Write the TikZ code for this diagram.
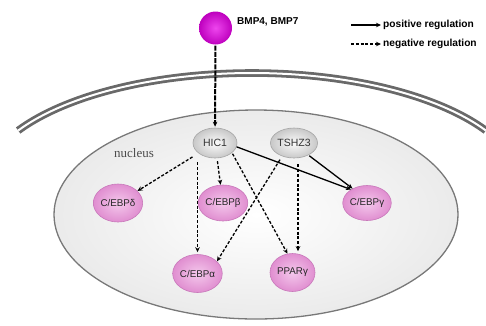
\documentclass[tikz,border=0pt]{standalone}
\usepackage{fontspec}
\setmainfont{Liberation Sans}
\newfontfamily\nucfont{Liberation Serif}
\usetikzlibrary{arrows.meta,shapes.geometric,calc}
\definecolor{pinkin}{RGB}{244,200,236}
\definecolor{pinkout}{RGB}{224,142,208}
\definecolor{pinkedge}{RGB}{200,120,186}
\definecolor{grayin}{RGB}{252,252,252}
\definecolor{grayout}{RGB}{200,200,200}
\definecolor{grayedge}{RGB}{165,165,165}
\definecolor{memb}{RGB}{105,105,105}
\definecolor{purpin}{RGB}{238,70,238}
\definecolor{purpout}{RGB}{190,0,190}
\definecolor{nucedge}{RGB}{120,120,120}
\begin{document}
\begin{tikzpicture}[x=1pt,y=-1pt,
  gene/.style={ellipse, minimum width=45pt, minimum height=38pt, inner sep=0pt,
    inner color=pinkin, outer color=pinkout, draw=pinkedge, line width=0.6pt,
    font=\fontsize{9.8}{10}\selectfont, text=black!85},
  factor/.style={ellipse, minimum width=44pt, minimum height=30pt, inner sep=0pt,
    inner color=grayin, outer color=grayout, draw=grayedge, line width=0.6pt,
    font=\fontsize{10.5}{11}\selectfont, text=black!80},
  ligand/.style={circle, minimum size=33pt, inner sep=0pt,
    inner color=purpin, outer color=purpout},
  posreg/.style={-{Stealth[length=5pt,width=4.5pt]}, line width=1.3pt, black},
  negreg/.style={posreg, dash pattern=on 3pt off 1.8pt},
  stemline/.style={-{Stealth[length=5pt,width=4.5pt]}, line width=2pt, black,
    dash pattern=on 5pt off 1.2pt},
  legendtext/.style={anchor=west, inner sep=0pt, font=\bfseries\fontsize{10.2}{11}\selectfont},
  membrane/.style={draw=memb, line width=2.8pt, double=white, double distance=2pt}
]
\useasboundingbox (0,0) rectangle (486,325);

% cell membrane
\draw[membrane] plot[smooth, domain=210:330, samples=80]
  ({252+270*cos(\x)},{188+115*sin(\x)});

% nucleus
\draw[draw=nucedge, line width=1.3pt, inner color=white, outer color=gray!16]
  (256,214.5) ellipse [x radius=202, y radius=104.5];
\node[font=\nucfont\fontsize{13}{14}\selectfont, text=black!70] (nuc) at (134,153) {nucleus};

% ligand
\node[ligand] (bmp) at (215.5,28) {};
\node[anchor=west, inner sep=0pt, font=\bfseries\fontsize{10}{11}\selectfont] (bmplab) at (237,22) {BMP4, BMP7};

% legend
\node[legendtext] (lpos) at (383,25) {positive regulation};
\node[legendtext] (lneg) at (383,44) {negative regulation};
\coordinate (lposs) at (351,25);
\coordinate (lnegs) at (351,44);
\draw[posreg] (lposs) -- ([xshift=-2pt]lpos.west);
\draw[negreg] (lnegs) -- ([xshift=-2pt]lneg.west);

% factors
\node[factor] (hic1) at (215,143) {HIC1};
\node[factor] (tsh) at (294,143) {TSHZ3};

% targets
\node[gene] (cebpd) at (118,203) {C/EBPδ};
\node[gene, minimum width=43pt, minimum height=36pt] (cebpb) at (223,203) {C/EBPβ};
\node[gene, minimum width=43pt, minimum height=35pt] (cebpg) at (367,203) {C/EBPγ};
\node[gene] (cebpa) at (197.5,273.5) {C/EBPα};
\node[gene] (ppar) at (292.5,272.5) {PPARγ};

% stem
\draw[stemline, shorten <=1pt, shorten >=1pt] (bmp) -- (hic1);

% regulation arrows
\draw[negreg, shorten <=7pt] (hic1) -- (cebpd);
\draw[negreg, shorten <=3pt] (hic1) -- (cebpb);
\draw[negreg, shorten <=4pt, shorten >=2pt] (cebpa |- hic1.south) -- (cebpa.north);
\draw[negreg, shorten <=1pt] (hic1.-30) -- (ppar.105);
\draw[posreg] (hic1.-10) -- (cebpg.140);
\draw[posreg, shorten <=1pt] (tsh.-40) -- (cebpg.135);
\draw[negreg, shorten <=4pt] (tsh.-132) -- (cebpa.32);
\draw[negreg, shorten <=6pt, shorten >=2pt] ([xshift=4pt]tsh.south) -- ([xshift=4pt]tsh.south |- ppar.north);
\end{tikzpicture}
\end{document}
